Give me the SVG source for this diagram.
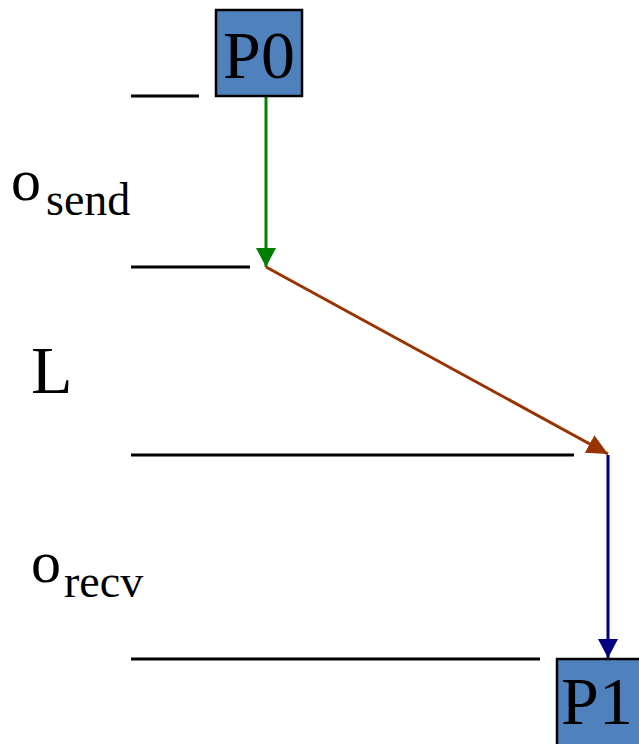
<svg xmlns="http://www.w3.org/2000/svg" width="639" height="744" viewBox="0 0 639 744">
<style>
.lvl{stroke:#000;stroke-width:3;fill:none}
.box{fill:#4F81BD;stroke:#000;stroke-width:2.5}
.t{font-family:"Liberation Serif","Times New Roman",serif;fill:#000}
.big{font-size:68px}
.o{font-size:60px}
.sub{font-size:46px}
</style>
<defs>
<marker id="ag" markerUnits="userSpaceOnUse" markerWidth="22" markerHeight="22" refX="19" refY="10" orient="auto"><path d="M0,0 L19,10 L0,20 Z" fill="#008000"/></marker>
<marker id="ab" markerUnits="userSpaceOnUse" markerWidth="24" markerHeight="22" refX="21" refY="10" orient="auto"><path d="M0,0 L21,10 L0,20 Z" fill="#993300"/></marker>
<marker id="an" markerUnits="userSpaceOnUse" markerWidth="22" markerHeight="22" refX="19" refY="10" orient="auto"><path d="M0,0 L19,10 L0,20 Z" fill="#000080"/></marker>
</defs>
<g id="levels">
<line class="lvl" x1="131" y1="96" x2="199" y2="96"/>
<line class="lvl" x1="131" y1="267" x2="250" y2="267"/>
<line class="lvl" x1="131" y1="455" x2="574" y2="455"/>
<line class="lvl" x1="131" y1="659" x2="540" y2="659"/>
</g>
<g id="labels">
<text class="t o" x="11" y="200">o</text><text class="t sub" x="46" y="215">send</text>
<text class="t big" x="31" y="393">L</text>
<text class="t o" x="31" y="582">o</text><text class="t sub" x="64" y="597">recv</text>
</g>
<g id="connectors">
<line x1="266" y1="97" x2="266" y2="267" stroke="#008000" stroke-width="3" marker-end="url(#ag)"/>
<line x1="266" y1="267" x2="608" y2="454" stroke="#993300" stroke-width="3" marker-end="url(#ab)"/>
<line x1="608" y1="455" x2="608" y2="658" stroke="#000080" stroke-width="3" marker-end="url(#an)"/>
</g>
<g id="P0">
<rect class="box" x="216" y="10" width="86" height="86"/>
<text class="t big" x="259" y="78" text-anchor="middle">P0</text>
</g>
<g id="P1">
<rect class="box" x="557" y="659" width="90" height="90"/>
<text class="t big" x="597" y="724" text-anchor="middle">P1</text>
</g>
</svg>
